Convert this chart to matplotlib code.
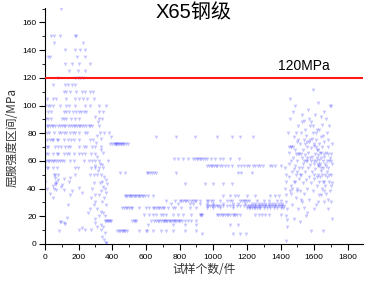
import numpy as np
import matplotlib.pyplot as plt
from matplotlib.ticker import MultipleLocator

# fonts: latin in Arial-like, CJK falls back to Noto Sans CJK
plt.rcParams['font.family'] = ['Liberation Sans', 'Noto Sans CJK SC']

title = "X65钢级"
xlabel = "试样个数/件"
ylabel = "屈服强度区间/MPa"
limit_value = 120
limit_label = "120MPa"

# ---- data ----
# left cluster: points lie on rows of 5 MPa steps, {yield range: sample numbers}
left_rows = {
    170: [95],
    150: [37, 52, 91, 176, 185],
    145: [52, 224],
    140: [117, 176, 210, 240],
    135: [18, 32, 190, 240],
    130: [117, 160, 204, 265],
    125: [144, 196, 240],
    120: [79, 180, 195, 210, 225],
    115: [46, 117, 137, 160, 180],
    110: [113, 127, 147, 183, 218, 238, 267, 285],
    105: [12, 46, 65, 125, 180, 200, 224, 250, 289],
    100: [2, 20, 32, 46, 91, 125, 144, 180, 240, 269, 362],
    95: [20, 35, 110, 125, 140, 165, 185, 200, 215, 230, 245, 321, 345],
    90: [5, 20, 35, 100, 110, 125, 155, 180, 205, 320, 340],
    85: [10, 20, 30, 40, 50, 60, 75, 90, 100, 110, 120, 135, 150, 160, 170,
         180, 190, 200, 210, 220, 230, 245, 260, 270, 280],
    80: [10, 25, 55, 85, 95, 110, 125, 150, 165, 180, 200, 235, 250, 325, 350],
    75: [10, 30, 40, 50, 70, 80, 110, 135, 155, 175, 205, 270, 285],
    70: [10, 20, 60, 80, 95, 120, 135, 150, 205, 230, 245, 280, 300, 333],
    65: [5, 20, 45, 70, 80, 115, 130, 145, 175, 205, 220, 240, 275, 300],
    60: [5, 15, 25, 35, 45, 55, 65, 80, 90, 100, 110, 150, 175, 230, 260,
         280, 300, 320],
    55: [10, 20, 45, 70, 180, 195, 275, 295, 320, 345],
    50: [60, 75, 180, 270, 290, 310],
}

# left cluster: loose points below the rows and the 300-400 column
left_x = [61, 66, 62, 111, 151, 101, 56, 95, 67, 112, 150, 200, 220, 46, 135,
          95, 115, 120, 86, 220, 0, 10, 30, 55, 65, 75, 50, 140, 160, 90, 130,
          205, 255, 265, 275, 290, 300,
          300, 315, 320, 310, 335, 305, 330, 345, 310, 325, 340, 300, 315, 330,
          350, 360, 340, 325, 370, 345, 355, 330, 365, 320, 350, 300, 340, 360,
          310, 330, 345, 320, 355, 300, 335, 310, 345, 330, 355, 340, 350, 360,
          365, 290, 280, 295, 275, 240, 320, 380, 390, 375]
left_y = [47.5, 45, 43.5, 46.7, 47.5, 42.7, 40, 41, 38.8, 38.8, 35.2, 40.5, 37,
          33, 28, 16, 15.3, 14.6, 9.3, 11.7, 45, 40, 36, 50, 43, 46, 42, 45,
          38, 16, 19, 10, 22, 25, 33, 28, 15,
          92, 88, 85, 78, 76, 73, 68, 66, 63, 58, 57, 56, 53, 50, 48, 46, 45,
          44, 43, 41, 40, 38, 37, 35, 33, 30, 30, 28, 25, 23, 22, 20, 20, 18,
          14, 12, 12, 10, 8, 5, 3, 1, 0.5, 44, 40, 35, 10, 10, 100, 80, 77, 60]

# middle part: horizontal runs {yield range: sample numbers}
mid_rows = {
    77: [660, 780, 890, 1022, 1109, 1158, 1236],
    72: [385, 400, 408, 415, 420, 425, 430, 435, 440, 445, 450, 455, 462,
         470, 480, 495],
    61.5: [765, 790, 820, 850, 880, 892, 902, 912, 920, 930, 940, 952, 965,
           985, 1010, 1040, 1060, 1100, 1155],
    56: [965, 975, 985, 995, 1005, 1015, 1025, 1040, 1055, 1070, 1090, 1110,
         1150, 1165, 1180, 1200, 1215, 1235, 1250, 1265, 1280, 1295, 1335,
         1350, 1365, 1400],
    51: [445, 475, 605, 615, 625, 635, 650, 660, 780, 1150, 1165, 1230],
    43: [830, 950, 1000, 1060, 1110],
    34.7: [475, 482, 490, 497, 505, 512, 520, 528, 535, 542, 550, 558, 565,
           575, 585, 595, 615, 640, 1060, 1100, 1130, 1150, 1200, 1250, 1340,
           1370, 1390],
    31.3: [720, 770, 800, 810, 820, 830, 840, 850, 870, 880, 890, 900, 920,
           960, 970, 985, 1000, 1040, 1080, 1100, 1110, 1160, 1170, 1180,
           1190, 1200, 1210, 1260, 1300, 1330, 1380, 1400],
    29: [750, 790, 860, 880, 920, 960, 1000, 1060, 1120, 1150, 1190, 1230,
         1250, 1270, 1290, 1310, 1330, 1350, 1370, 1390, 1410],
    27.5: [960, 970, 980, 990, 1000, 1010, 1020, 1030, 1040, 1060, 1080, 1100,
           1120, 1140, 1160, 1180, 1200, 1210, 1220, 1230, 1240, 1250, 1260,
           1270, 1280, 1290, 1300, 1310, 1320, 1330, 1340, 1350, 1360, 1370,
           1380, 1390, 1400, 1410, 1420],
    25.8: [460, 470, 480, 490, 500, 510, 520, 560, 600, 620, 640, 650, 660,
           670, 680, 690, 700, 710, 730, 760, 770, 810, 860, 900, 960, 1000,
           1040, 1120, 1200, 1210, 1220, 1230, 1240, 1250, 1260, 1270, 1280,
           1300, 1320, 1340, 1360, 1380, 1400, 1415],
    21: [590, 620, 640, 660, 690, 700, 720, 760, 790, 820, 870, 920, 925, 930,
         935, 1020, 1030, 1040, 1050, 1060, 1070, 1080, 1090, 1100, 1120,
         1125, 1130, 1140, 1160, 1250, 1270, 1290, 1310, 1330, 1400],
    16.5: [355, 362, 368, 374, 380, 386, 392, 520, 528, 535, 542, 630, 645,
           660, 670, 680, 690, 700, 705, 712, 720, 728, 735, 742, 750, 758,
           765, 772, 780, 788, 795, 805, 815, 830, 850, 870, 900],
    13.7: [610, 760, 830, 900, 1100, 1150],
    9: [430, 440, 448, 455, 462, 470, 478, 490, 560, 600, 605, 640, 690, 720,
        760, 830, 900],
    7.5: [935, 1120, 1160, 1195],
}

# right cloud (samples 1420-1710)
right_x = [1425, 1430, 1432, 1428, 1435, 1430, 1438, 1433, 1436, 1440, 1435,
           1445, 1448, 1450, 1452, 1455, 1458, 1460, 1462, 1465, 1468, 1470,
           1472, 1475, 1478, 1480, 1482, 1485, 1486, 1488, 1490, 1492, 1495,
           1497, 1500, 1502, 1505, 1507, 1510, 1512, 1514, 1516, 1518, 1520,
           1522, 1525, 1527, 1530, 1532, 1534, 1536, 1538, 1540, 1542, 1545,
           1547, 1549, 1551, 1553, 1555, 1557, 1559, 1561, 1563, 1565, 1567,
           1569, 1571, 1573, 1575, 1577, 1579, 1581, 1583, 1585, 1587, 1589,
           1591, 1593, 1594, 1596, 1598, 1600, 1602, 1604, 1606, 1608, 1610,
           1612, 1614, 1616, 1618, 1620, 1622, 1624, 1625, 1627, 1629, 1631,
           1633, 1635, 1637, 1639, 1641, 1643, 1645, 1647, 1649, 1651, 1653,
           1655, 1657, 1659, 1661, 1663, 1665, 1667, 1669, 1671, 1673, 1675,
           1677, 1679, 1681, 1683, 1685, 1687, 1689, 1691, 1693, 1695, 1697,
           1699, 1701, 1703, 1705, 1707, 1705, 1580,
           1450, 1460, 1475, 1490, 1505, 1520, 1540, 1550, 1560, 1580, 1600,
           1615, 1620, 1630, 1640, 1650, 1660, 1680, 1690, 1700, 1640, 1625,
           1612, 1598, 1575, 1560, 1545, 1530, 1515, 1500, 1485, 1470, 1455,
           1600, 1615, 1630, 1645, 1660, 1675, 1690, 1700, 1640, 1660, 1680,
           1620, 1600, 1560, 1540, 1520, 1500, 1480, 1465, 1610, 1630, 1650,
           1595, 1570, 1545, 1525, 1505, 1490, 1640, 1660, 1700, 1685, 1670]
right_y = [55, 50, 45, 40, 35, 30, 25, 20, 17, 12, 2,
           80, 66, 58, 48, 105, 90, 42, 70, 36, 52, 28,
           62, 95, 45, 77, 18, 100, 56, 68, 33, 50, 74,
           40, 60, 85, 25, 47, 65, 55, 16, 72, 38, 80,
           50, 62, 30, 93, 44, 68, 58, 75, 89, 36, 52,
           64, 20, 46, 78, 60, 70, 40, 55, 97, 66, 48,
           74, 32, 62, 85, 57, 44, 69, 88, 52, 76, 63,
           38, 80, 111, 58, 47, 71, 93, 65, 54, 28, 75,
           60, 42, 68, 82, 56, 64, 102, 50, 72, 61, 35,
           58, 66, 48, 77, 53, 62, 40, 70, 86, 55, 45,
           9, 63, 30, 74, 50, 58, 42, 90, 66, 36, 60,
           80, 48, 70, 25, 55, 45, 85, 62, 38, 100, 65,
           50, 30, 18, 72, 44, 58, 9,
           70, 70, 70, 65, 65, 65, 60, 60, 62, 60, 60,
           62, 58, 56, 55, 60, 65, 65, 60, 60, 66, 68,
           70, 72, 75, 74, 72, 55, 50, 52, 45, 40, 38,
           50, 48, 45, 50, 45, 52, 50, 42, 35, 38, 32,
           30, 25, 22, 26, 32, 38, 54, 60, 80, 82, 78,
           85, 90, 82, 88, 75, 80, 92, 95, 100, 75, 56]

# collect everything into one scatter series
xs, ys = [], []
for rows in (left_rows, mid_rows):
    for level, samples in rows.items():
        xs += samples
        ys += [level] * len(samples)
xs += left_x + right_x
ys += left_y + right_y
xs = np.array(xs)
ys = np.array(ys)

fig = plt.figure(figsize=(3.67, 2.83), dpi=100)
ax = fig.add_axes([0.1226, 0.138, 0.866, 0.834])

ax.scatter(xs, ys, marker='v', s=7, color='#4d4dff', alpha=0.32,
           linewidths=0, zorder=2)
ax.axhline(limit_value, color='#ff1a1a', lw=1.5, zorder=3)
ax.text(1541, 128.2, limit_label, fontsize=10, ha='center', va='center')

ax.set_xlim(0, 1889)
ax.set_ylim(0, 170.5)

# Origin-like axes: only left/bottom, outward ticks with minors
for side in ('top', 'right'):
    ax.spines[side].set_visible(False)
for side in ('left', 'bottom'):
    ax.spines[side].set_linewidth(0.8)
ax.xaxis.set_major_locator(MultipleLocator(200))
ax.xaxis.set_minor_locator(MultipleLocator(100))
ax.yaxis.set_major_locator(MultipleLocator(20))
ax.yaxis.set_minor_locator(MultipleLocator(10))
ax.tick_params(which='major', direction='out', length=4, width=0.8,
               labelsize=6, pad=2)
ax.tick_params(which='minor', direction='out', length=2, width=0.6)
ax.tick_params(axis='x', pad=3)

fig.text(0.527, 0.956, title, fontsize=14.5, ha='center', va='center')
fig.text(0.556, 0.046, xlabel, fontsize=8.5, ha='center', va='center',
         color='#333333', family=['Noto Sans CJK SC', 'DejaVu Sans'])
fig.text(0.033, 0.515, ylabel, fontsize=8.5, ha='center', va='center',
         rotation=90, color='#333333',
         family=['Noto Sans CJK SC', 'DejaVu Sans'])

fig.savefig('out.png', dpi=100)
